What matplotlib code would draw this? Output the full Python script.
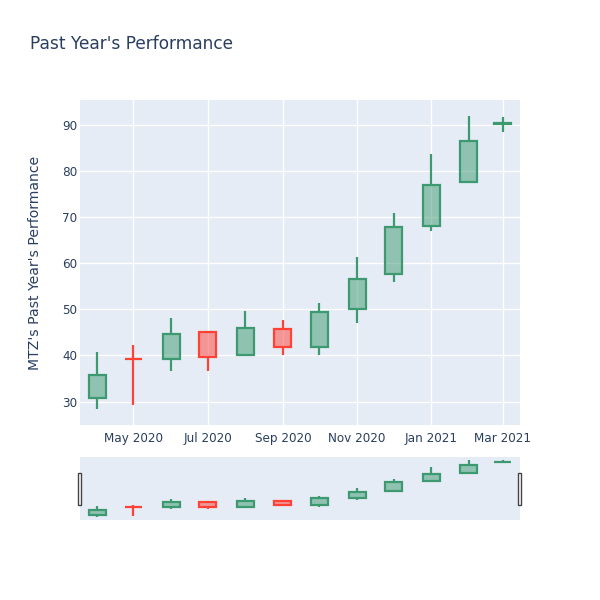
import matplotlib
matplotlib.use("Agg")
import matplotlib.pyplot as plt
import matplotlib.dates as mdates
from matplotlib.patches import Rectangle
import pandas as pd

plt.rcParams['font.family'] = ['DejaVu Sans']

dates = ["2020-04-01", "2020-05-01", "2020-06-01", "2020-07-01", "2020-08-01", "2020-09-01",
         "2020-10-01", "2020-11-01", "2020-12-01", "2021-01-01", "2021-02-01", "2021-03-01"]
opens = [30.8, 39.3, 39.3, 45.2, 40.0, 45.8, 41.9, 50.1, 57.7, 68.2, 77.6, 90.2]
highs = [40.7, 42.2, 48.1, 45.3, 49.7, 47.7, 51.3, 61.3, 70.9, 83.8, 92.1, 91.8]
lows = [28.3, 29.2, 36.7, 36.7, 39.9, 40.2, 40.0, 47.0, 56.0, 67.0, 77.5, 88.5]
closes = [35.7, 39.2, 44.7, 39.7, 46.0, 41.9, 49.5, 56.6, 68.0, 77.0, 86.6, 90.4]

title = "Past Year's Performance"
ylabel = "MTZ's Past Year's Performance"
tick_dates = ["2020-05-01", "2020-07-01", "2020-09-01", "2020-11-01", "2021-01-01", "2021-03-01"]
tick_labels = ["May 2020", "Jul 2020", "Sep 2020", "Nov 2020", "Jan 2021", "Mar 2021"]
yticks = [30, 40, 50, 60, 70, 80, 90]

INC = "#3D9970"
DEC = "#FF4136"
BG = "#E5ECF6"
TXT = "#2a3f5f"

x = mdates.date2num(pd.to_datetime(dates))
xmin = mdates.date2num(pd.Timestamp("2020-03-18"))
xmax = mdates.date2num(pd.Timestamp("2021-03-15"))
ylim = (24.9, 95.5)

fig = plt.figure(figsize=(6, 6), dpi=100)
ax = fig.add_axes([80/600, 1-425/600, 440/600, 325/600])
sl = fig.add_axes([80/600, 1-520/600, 440/600, 63/600])


def draw(a, lw):
    width = 14.0
    for xi, o, h, l, c in zip(x, opens, highs, lows, closes):
        col = INC if c >= o else DEC
        lo_b, hi_b = min(o, c), max(o, c)
        a.vlines(xi, l, lo_b, color=col, lw=lw, zorder=3)
        a.vlines(xi, hi_b, h, color=col, lw=lw, zorder=3)
        a.add_patch(Rectangle((xi - width/2, lo_b), width, max(hi_b - lo_b, 0.001),
                              facecolor=matplotlib.colors.to_rgba(col, 0.5),
                              edgecolor=col, lw=lw, zorder=4))
    a.set_xlim(xmin, xmax)
    a.set_ylim(*ylim)
    a.set_facecolor(BG)
    for s in a.spines.values():
        s.set_visible(False)


draw(ax, 1.6)
draw(sl, 1.6)

ax.grid(True, color="white", lw=1)
ax.set_axisbelow(True)
ax.set_yticks(yticks)
ax.set_xticks([mdates.date2num(pd.Timestamp(d)) for d in tick_dates])
ax.set_xticklabels(tick_labels)
ax.tick_params(axis="x", length=0, labelsize=8.64, colors=TXT, pad=5)
ax.tick_params(axis="y", length=0, labelsize=8.64, colors=TXT, pad=2)
ax.set_ylabel(ylabel, fontsize=10.08, color=TXT)
ax.yaxis.set_label_coords(-(80-42)/440, 0.5)

sl.set_xticks([])
sl.set_yticks([])

fig.text(30/600, 1-44/600, title, fontsize=12.24, color=TXT, va="center", ha="left")

for hx in (78/600, 518/600):
    fig.patches.append(Rectangle((hx, 1-505/600), 3/600, 32/600, transform=fig.transFigure,
                                 facecolor="white", edgecolor="#444444", lw=1))

fig.savefig("out.png", dpi=100)
